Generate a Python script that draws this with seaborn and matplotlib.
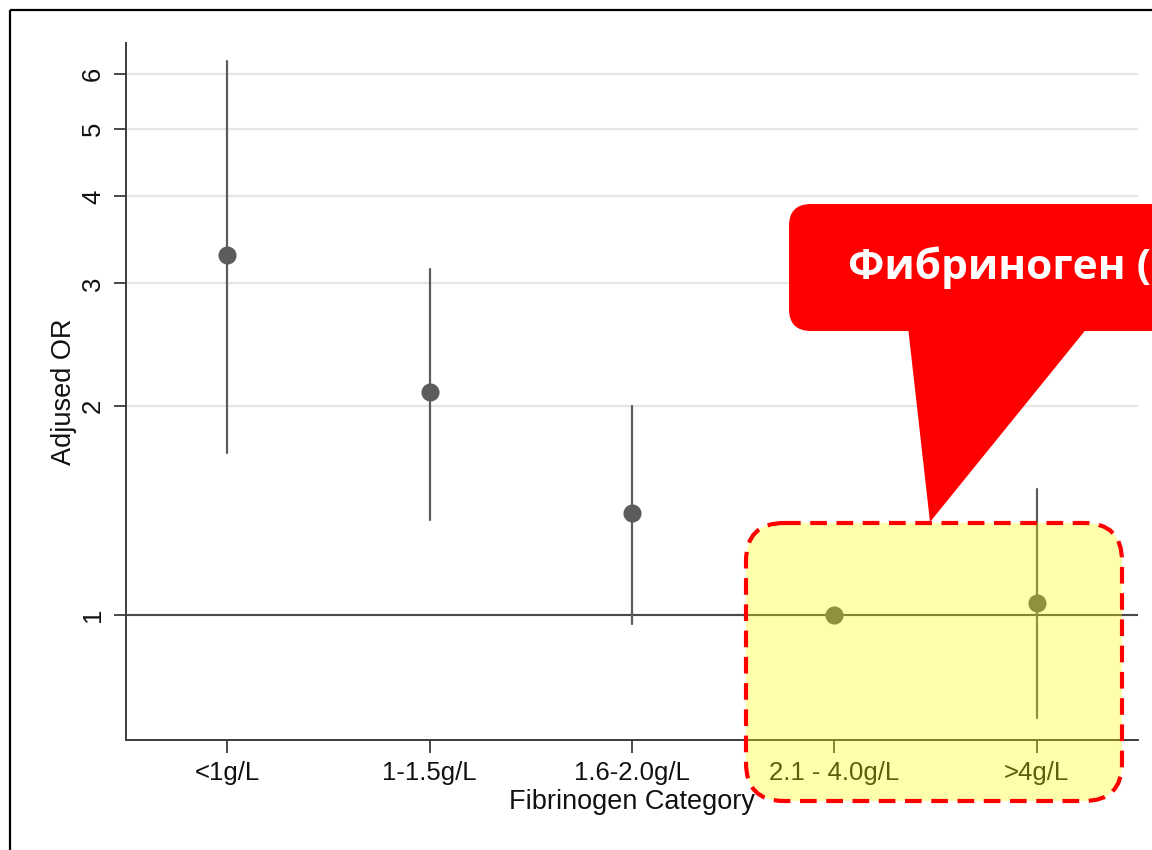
import numpy as np
import pandas as pd
import seaborn as sns
import matplotlib.pyplot as plt
from matplotlib.patches import Rectangle, FancyBboxPatch, Polygon
from matplotlib.transforms import Affine2D

# values (log scale odds ratios)
categories = ["<1g/L", "1-1.5g/L", "1.6-2.0g/L", "2.1 - 4.0g/L", ">4g/L"]
adjusted_or = [3.30, 2.09, 1.40, 1.00, 1.04]
ci_low = [1.71, 1.37, 0.97, 1.00, 0.71]
ci_high = [6.26, 3.15, 2.00, 1.00, 1.52]
y_ticks = [1, 2, 3, 4, 5, 6]

sns.set_theme(style="white")
plt.rcParams["font.family"] = ["Liberation Sans", "DejaVu Sans"]

# long table: low / estimate / high per category -> median is the estimate, range is the CI
rows = []
for cat, lo, est, hi in zip(categories, ci_low, adjusted_or, ci_high):
    for v in (lo, est, hi):
        rows.append({"category": cat, "OR": v})
df = pd.DataFrame(rows)

W, H = 1152, 850
fig = plt.figure(figsize=(W / 100, H / 100), dpi=100)
fig.patch.set_facecolor("white")
ax = fig.add_axes([126 / W, 1 - 740 / H, (1138 - 126) / W, (740 - 43) / H])
ax.set_yscale("log")

sns.pointplot(
    data=df,
    x="category",
    y="OR",
    order=categories,
    estimator="median",
    errorbar=lambda v: (v.min(), v.max()),
    linestyle="none",
    color="#5c5c5c",
    markersize=11,
    err_kws={"linewidth": 1.6},
    ax=ax,
)

ax.axhline(1, color="#4a4a4a", linewidth=1.5, zorder=1)
ax.set_xlim(-0.5, len(categories) - 0.5)
ax.set_ylim(0.661, 6.65)
ax.set_yticks(y_ticks, labels=[str(t) for t in y_ticks])
ax.yaxis.set_minor_locator(plt.NullLocator())
ax.grid(axis="y", color="#e6e6e6", linewidth=1.6)
ax.grid(axis="x", visible=False)
ax.set_axisbelow(True)

sns.despine(ax=ax)
for side in ["left", "bottom"]:
    ax.spines[side].set_color("#3c3c3c")
    ax.spines[side].set_linewidth(1.4)

ax.tick_params(axis="both", direction="out", length=9, width=1.3,
               color="#3c3c3c", labelsize=18.5, labelcolor="#111111",
               pad=6, left=True, bottom=True)
plt.setp(ax.get_yticklabels(), rotation=90, va="center", ha="right")

ax.set_xlabel("Fibrinogen Category", fontsize=19.5, color="#111111", labelpad=3)
ax.set_ylabel("Adjused OR", fontsize=19.5, color="#111111")
ax.yaxis.set_label_coords(-0.048, 0.5)

# pixel coordinates with origin top-left
px = Affine2D().scale(1 / W, -1 / H).translate(0, 1) + fig.transFigure

# outer frame of the slide crop
fig.add_artist(Rectangle((10, 10), 1200, 900, transform=px, fill=False,
                         edgecolor="black", linewidth=1.6))

# red callout (cut by the right edge, as in the source slide)
fig.add_artist(FancyBboxPatch((789, 204), 420, 127, transform=px,
                              boxstyle="round,pad=0,rounding_size=22",
                              facecolor="#ff0000", edgecolor="none", zorder=5))
fig.add_artist(Polygon([(908, 327), (1088, 327), (930, 522)], closed=True,
                       transform=px, facecolor="#ff0000", edgecolor="none", zorder=5))
fig.text(848, 268, "Фибриноген (", transform=px, color="white",
         fontsize=30.5, fontweight="bold", family=["Open Sans", "DejaVu Sans"],
         ha="left", va="center", zorder=6)

# yellow highlight with dashed red border
fig.add_artist(FancyBboxPatch((746, 523), 376, 278, transform=px,
                              boxstyle="round,pad=0,rounding_size=38",
                              facecolor=(1, 1, 0, 0.33), edgecolor="#ff0000",
                              linewidth=3, linestyle=(0, (4, 2.3)), zorder=7))

fig.savefig("out.png", dpi=100)
